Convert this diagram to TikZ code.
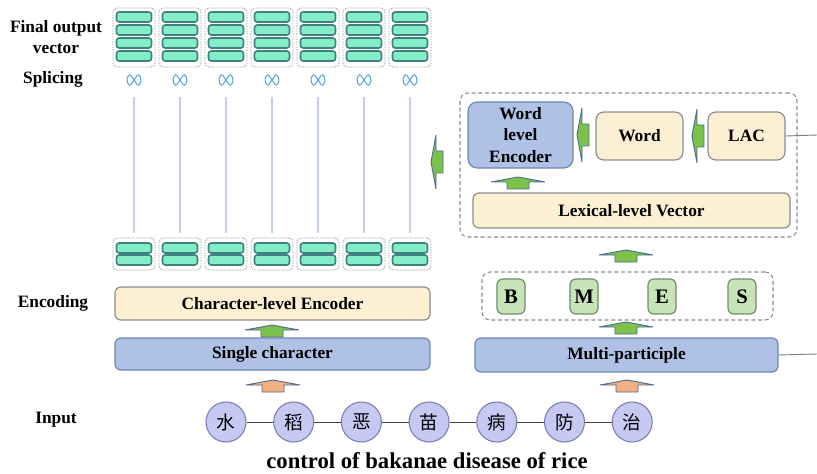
\documentclass[tikz,border=0pt]{standalone}
\usepackage{fontspec}
\setmainfont{Liberation Serif}
\newfontfamily\cjk{Noto Sans CJK SC}
\usepackage{xcolor}
\usepackage{tikz}
\usetikzlibrary{calc,positioning}
\newcommand{\pxu}{0.75pt}
\definecolor{cream}{HTML}{FDF0D2}
\definecolor{steel}{HTML}{AFC1E5}
\definecolor{steeldraw}{HTML}{6E86B4}
\definecolor{leaf}{HTML}{C9E3B9}
\definecolor{leafdraw}{HTML}{6D8E69}
\definecolor{aqua}{HTML}{82EDC7}
\definecolor{aquadraw}{HTML}{3F8080}
\definecolor{lav}{HTML}{C6C9F2}
\definecolor{lavdraw}{HTML}{7A7FB2}
\definecolor{arrgreen}{HTML}{7CC24A}
\definecolor{arrorange}{HTML}{F3B083}
\definecolor{arrhead}{HTML}{4E6B94}
\definecolor{splice}{HTML}{5AA6E6}
\definecolor{vline}{HTML}{C3CFEA}
\definecolor{boxgray}{HTML}{8C8C8C}

\begin{document}
\begin{tikzpicture}[x=0.75pt, y=-0.75pt,
  lbl/.style={font=\fontsize{13}{16}\selectfont\bfseries, align=center},
  box/.style={draw=boxgray, line width=0.9, rounded corners=4.5, inner sep=0, lbl},
  cbox/.style={box, fill=cream},
  sbox/.style={box, fill=steel, draw=steeldraw},
  lbox/.style={box, fill=leaf, draw=leafdraw, font=\fontsize{15.5}{17}\selectfont\bfseries,
    minimum width=28*\pxu, minimum height=35*\pxu},
  frame/.style={draw=boxgray, line width=0.8, dash pattern=on 3pt off 2pt, rounded corners=6, inner sep=0},
  group/.style={draw=gray!70, line width=0.6, dash pattern=on 1.2pt off 0.8pt, rounded corners=3,
    inner sep=0, minimum width=42*\pxu},
  bar/.style={draw=aquadraw, fill=aqua, line width=1.2, rounded corners=2, inner sep=0,
    minimum width=35*\pxu, minimum height=10*\pxu},
  charnode/.style={circle, draw=lavdraw, fill=lav, line width=0.8, inner sep=0,
    minimum size=40*\pxu, font=\cjk\fontsize{14}{14}\selectfont},
  greenarr/.style={fill=arrgreen, draw=arrhead, line width=0.7},
  orangearr/.style={fill=arrorange, draw=arrhead, line width=0.7},
  blockarrow/.pic={\path[pic actions] (-11,0) -- (-11,-7) -- (-27,-7) -- (0,-12) -- (27,-7) -- (11,-7) -- (11,0) -- cycle;},
  splicesym/.pic={
    \draw[splice, line width=0.8] (125:7) arc[start angle=125, end angle=235, radius=7]
      (-55:7) arc[start angle=-55, end angle=55, radius=7];
    \draw[splice, line width=0.8] (-3.5,-5) .. controls (0,0) .. (3.5,5)
      (-3.5,5) .. controls (0,0) .. (3.5,-5);}]
  \useasboundingbox (0,0) rectangle (817,474);

  % side labels
  \node[lbl] (Lfinal) at (56,37) {Final output\\vector};
  \node[lbl] (Lsplice) at (53,79) {Splicing};
  \node[lbl] (Lenc) at (53,303) {Encoding};
  \node[lbl] (Linput) at (56,420) {Input};

  % vector groups, splicing and links
  \foreach \i [evaluate=\i as \gx using 134+46*\i] in {0,...,6} {
    \node[group, minimum height=59*\pxu] (T\i) at (\gx,37.5) {};
    \foreach \by/\k in {17/1,30/2,43/3,56/4}
      \node[bar] (T\i-\k) at (\gx,\by) {};
    \node[group, minimum height=32*\pxu] (B\i) at (\gx,254) {};
    \foreach \by/\k in {248/1,260/2}
      \node[bar] (B\i-\k) at (\gx,\by) {};
    \node[minimum size=14*\pxu, inner sep=0] (S\i) at (\gx,80) {};
    \pic at (S\i) {splicesym};
    \draw[vline, line width=0.8, shorten <=10*\pxu, shorten >=5*\pxu] (S\i.south) -- (B\i.north);
  }

  % left branch
  \node[cbox, minimum width=315*\pxu, minimum height=33*\pxu] (CE) at (272.5,303.5) {Character-level Encoder};
  \node[sbox, minimum width=315*\pxu, minimum height=32*\pxu] (SC) at (272.5,354) {Single character};

  % right branch
  \node[sbox, minimum width=303*\pxu, minimum height=34*\pxu] (MP) at (626.5,355) {Multi-participle};
  \node[frame, minimum width=291*\pxu, minimum height=48*\pxu] (BMES) at (627.5,296) {};
  \foreach \bx/\t in {511/B,584/M,662/E,742/S}
    \node[lbox] (\t) at (\bx,296.5) {\t};
  \node[frame, minimum width=337*\pxu, minimum height=144*\pxu] (LEX) at (628.5,165) {};
  \node[cbox, minimum width=317*\pxu, minimum height=35*\pxu] (LV) at (631.5,210.5) {Lexical-level Vector};
  \node[sbox, minimum width=105*\pxu, minimum height=66*\pxu, rounded corners=7] (WLE) at (520.5,135) {Word\\level\\Encoder};
  \node[cbox, minimum width=87*\pxu, minimum height=48*\pxu, rounded corners=6] (W) at (639.5,136) {Word};
  \node[cbox, minimum width=77*\pxu, minimum height=48*\pxu, rounded corners=6] (LAC) at (746.5,136) {LAC};

  \coordinate (R1) at (817,135);
  \coordinate (R2) at (817,354);
  \draw[gray, line width=0.7] (LAC.east) -- (R1);
  \draw[gray, line width=0.7] (MP.east) -- (R2);

  % input characters
  \foreach \i/\c in {0/水,1/稻,2/恶,3/苗,4/病,5/防,6/治}
    \node[charnode] (C\i) at (226+67.7*\i,422) {\c};
  \foreach \i/\j in {0/1,1/2,2/3,3/4,4/5,5/6}
    \draw[black!75, line width=0.7] (C\i) -- (C\j);
  \node[font=\fontsize{17}{19}\selectfont\bfseries] (CAP) at (427,461) {control of bakanae disease of rice};

  % block arrows
  \pic[orangearr] at (273,392) {blockarrow};
  \pic[orangearr] at (627,392) {blockarrow};
  \pic[greenarr] at (272,337) {blockarrow};
  \pic[greenarr] at (626,334) {blockarrow};
  \pic[greenarr] at (626,262) {blockarrow};
  \pic[greenarr] at (518,189) {blockarrow};
  \pic[greenarr, rotate=90] at (589,135) {blockarrow};
  \pic[greenarr, rotate=90] at (704,136) {blockarrow};
  \pic[greenarr, rotate=90] at (443,162) {blockarrow};

\end{tikzpicture}
\end{document}
